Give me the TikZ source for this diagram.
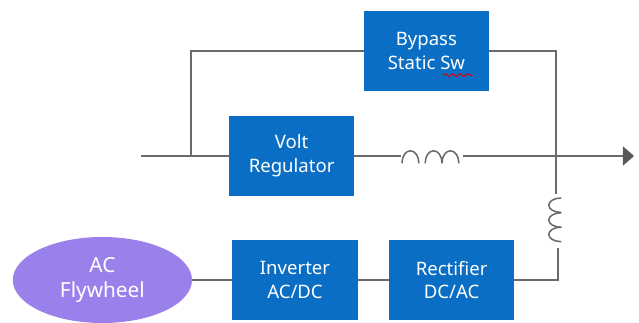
\documentclass[tikz,border=0pt]{standalone}
\usepackage{fontspec}
\setmainfont{Noto Sans}
\usepackage{xcolor}
\usepackage{tikz}
\usetikzlibrary{shapes.geometric,arrows.meta,decorations.pathmorphing}
\definecolor{upsblue}{HTML}{0A6FC4}
\definecolor{upspurple}{HTML}{9A80EA}
\definecolor{upsgray}{HTML}{6A6A6A}
\definecolor{upstip}{HTML}{58595B}

\begin{document}
\begin{tikzpicture}[
  font=\fontsize{13.2}{17}\selectfont,
  block/.style={fill=upsblue,text=white,minimum width=3.13cm,minimum height=2cm,align=center,inner sep=0pt},
  flywheel/.style={ellipse,fill=upspurple,text=white,minimum width=4.48cm,minimum height=2.15cm,align=center,inner sep=0pt,font=\fontsize{14.8}{17.5}\selectfont},
  wire/.style={draw=upsgray,line width=1.3pt},
  outwire/.style={wire,-{Triangle[length=0.28cm,width=0.48cm,color=upstip]}},
  coilh/.style={draw=upsgray,line width=1.1pt,line cap=round},
  spell/.style={draw=red!85!black,line width=0.7pt,decorate,decoration={snake,amplitude=1.1pt,segment length=5.2pt}}
]
  \useasboundingbox (0,0) rectangle (15.975,8.05);

  \node[block] (bypass) at (10.66,6.78) {Bypass\\Static Sw};
  \node[block] (volt) at (7.29,4.15) {Volt\\Regulator};
  \node[block] (inverter) at (7.375,1.05) {Inverter\\AC/DC};
  \node[block] (rectifier) at (11.29,1.05) {Rectifier\\DC/AC};
  \node[flywheel] (fly) at (2.56,1.05) {AC\\Flywheel};

  \coordinate (in) at (3.52,4.15);
  \coordinate (tap) at (4.78,4.15);
  \coordinate (out) at (15.85,4.15);
  \coordinate (coilAin) at (10.03,4.15);
  \coordinate (coilAout) at (11.58,4.15);
  \coordinate (coilBin) at (13.9,3.2);
  \coordinate (coilBout) at (13.95,1.85);
  \coordinate (spellA) at (11.08,6.17);
  \coordinate (spellB) at (11.83,6.17);

  \draw[wire] (in) -- (volt);
  \draw[wire] (tap) |- (bypass);
  \draw[wire] (bypass) -| (coilBin);
  \draw[wire] (volt) -- (coilAin);
  \draw[outwire] (coilAout) -- (out);
  \draw[wire] (fly) -- (inverter);
  \draw[wire] (inverter) -- (rectifier);
  \draw[wire] (rectifier) -| (coilBout);

  % coils
  \foreach \x in {10.05,10.63,11.05}
    \draw[coilh] (\x,3.98) arc[start angle=180,end angle=0,x radius=0.21,y radius=0.3];
  \foreach \y in {3.1,2.73,2.37}
    \draw[coilh] (14.02,\y) arc[start angle=90,end angle=270,x radius=0.3,y radius=0.18];

  \draw[spell] (spellA) -- (spellB);
\end{tikzpicture}
\end{document}
